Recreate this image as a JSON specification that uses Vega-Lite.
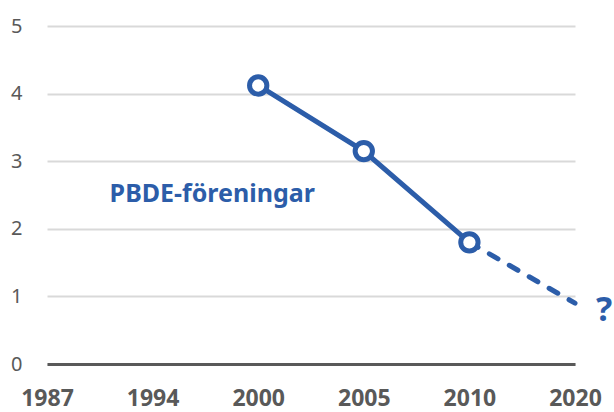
{
  "$schema": "https://vega.github.io/schema/vega-lite/v6.json",
  "width": 528,
  "height": 338,
  "autosize": {"type": "none"},
  "padding": {"left": 47, "top": 26, "right": 39, "bottom": 48},
  "config": {"view": {"stroke": null}, "font": "Noto Sans"},
  "datasets": {
    "obs": [
      {"year": "2000", "value": 4.12},
      {"year": "2005", "value": 3.15},
      {"year": "2010", "value": 1.8}
    ],
    "proj": [
      {"year": "2010", "value": 1.8},
      {"year": "2020", "value": 0.9}
    ],
    "lbl": [
      {"year": "1994", "value": 2.54, "text": "PBDE-föreningar"}
    ],
    "q": [
      {"year": "2020", "value": 0.9, "text": "?"}
    ]
  },
  "encoding": {
    "x": {
      "field": "year",
      "type": "ordinal",
      "scale": {"type": "point", "padding": 0, "domain": ["1987", "1994", "2000", "2005", "2010", "2020"]},
      "axis": {
        "title": null,
        "ticks": false,
        "domain": true,
        "domainColor": "#595959",
        "domainWidth": 3,
        "labelAngle": 0,
        "labelFont": "Noto Sans",
        "labelFontWeight": "bold",
        "labelFontSize": 23,
        "labelColor": "#595959",
        "labelBaseline": "alphabetic",
        "labelPadding": 41,
        "zindex": 1
      }
    },
    "y": {
      "field": "value",
      "type": "quantitative",
      "scale": {"domain": [0, 5], "nice": false},
      "axis": {
        "title": null,
        "values": [0, 1, 2, 3, 4, 5],
        "ticks": false,
        "domain": false,
        "grid": true,
        "gridColor": "#d9d9d9",
        "gridWidth": 2,
        "labelFont": "Noto Sans",
        "labelFontSize": 20,
        "labelColor": "#595959",
        "labelPadding": 25
      }
    }
  },
  "layer": [
    {
      "data": {"name": "obs"},
      "mark": {"type": "line", "color": "#2C5DA9", "strokeWidth": 5}
    },
    {
      "data": {"name": "proj"},
      "mark": {"type": "line", "color": "#2C5DA9", "strokeWidth": 5, "strokeDash": [10, 13], "strokeCap": "round"}
    },
    {
      "data": {"name": "obs"},
      "mark": {"type": "point", "shape": "circle", "filled": false, "fill": "white", "fillOpacity": 1, "stroke": "#2C5DA9", "strokeWidth": 5, "size": 300, "opacity": 1}
    },
    {
      "data": {"name": "lbl"},
      "mark": {"type": "text", "align": "left", "baseline": "middle", "dx": -43, "dy": 2, "font": "Noto Sans", "fontWeight": "bold", "fontSize": 25, "color": "#2C5DA9"},
      "encoding": {"text": {"field": "text"}}
    },
    {
      "data": {"name": "q"},
      "mark": {"type": "text", "align": "center", "baseline": "middle", "dx": 29, "dy": 8, "font": "Noto Sans", "fontWeight": "bold", "fontSize": 34, "color": "#2C5DA9"},
      "encoding": {"text": {"field": "text"}}
    }
  ]
}
